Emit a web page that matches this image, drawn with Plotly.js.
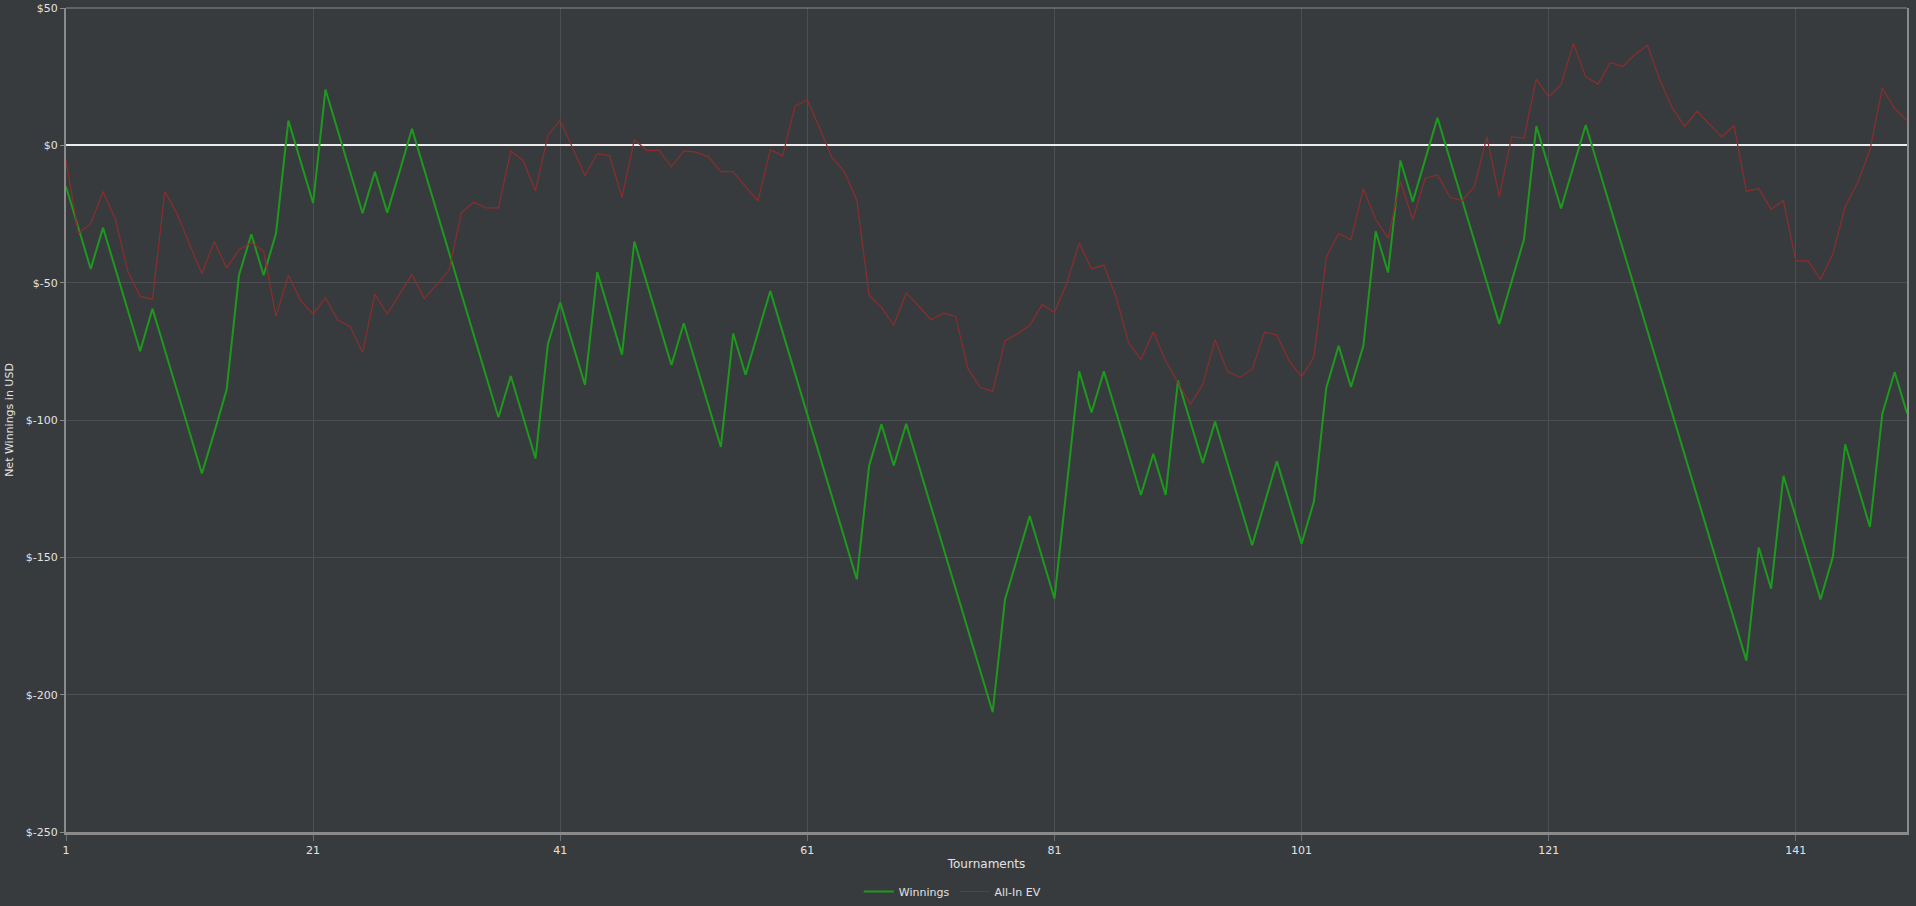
<!DOCTYPE html>
<html>
<head>
<meta charset="utf-8">
<script src="https://cdn.plot.ly/plotly-3.0.1.min.js"></script>
<style>
  html, body { margin: 0; padding: 0; background: #383b3e; }
  #chart { width: 1916px; height: 906px; }
</style>
</head>
<body>
<div id="chart"></div>
<script>
// cumulative results per tournament
const winnings = [
  -15, -30, -45, -30, -45, -60, -75, -59.5, -74.5, -89.5,
  -104.5, -119.5, -104.5, -89, -47.3, -32.4, -47.3, -32, 9, -6,
  -21, 20.3, 5.3, -9.7, -24.7, -9.6, -24.5, -9.5, 6, -9,
  -24, -39, -54, -69, -84, -99, -84, -99, -114, -72.4,
  -57.2, -72.2, -87.2, -46.2, -61.2, -76.2, -35, -50, -65, -80,
  -64.8, -79.8, -94.8, -109.8, -68.5, -83.5, -68.3, -53, -68, -83,
  -98, -113, -128, -143, -158, -116.6, -101.6, -116.6, -101.4, -116.4,
  -131.4, -146.4, -161.4, -176.4, -191.4, -206.4, -165.3, -150.3, -135, -150,
  -165, -124, -82.3, -97.3, -82.3, -97.3, -112.3, -127.3, -112.3, -127.3,
  -85.6, -100.6, -115.6, -100.6, -115.6, -130.6, -145.6, -130.4, -115, -130,
  -145, -129.7, -88.3, -73, -88, -73, -31.3, -46.3, -5.5, -20.5,
  -5.2, 10, -5, -20, -35, -50, -65, -49.5, -34.3, 7,
  -8, -23, -7.7, 7.4, -7.6, -22.6, -37.6, -52.6, -67.6, -82.6,
  -97.6, -112.6, -127.6, -142.6, -157.6, -172.6, -187.6, -146.4, -161.4, -120.3,
  -135.3, -150.3, -165.3, -149.8, -108.9, -123.9, -138.9, -97.8, -82.5, -97.5
];
const allInEV = [
  -5.5, -32, -28.5, -16.8, -27, -45.8, -55, -56, -16.8, -25,
  -36, -46.7, -35, -44.7, -38, -35.4, -38.6, -62.3, -47.3, -56.6,
  -61.4, -55.5, -63.6, -66, -75.4, -54.2, -61.4, -54.2, -47, -55.8,
  -50.6, -45.5, -24.6, -20.7, -22.8, -22.8, -2.1, -5.6, -16.5, 3.6,
  9.1, -0.7, -11, -3, -3.8, -18.9, 2, -1.8, -1.8, -7.8,
  -2, -2.5, -4.2, -9.6, -9.6, -15, -20.2, -1.6, -3.8, 14.3,
  16.5, 6.2, -4.6, -9.6, -20, -54.6, -59, -65.5, -53.8, -58.4,
  -63.5, -61.1, -62.3, -81.3, -88.2, -89.6, -71.1, -68.6, -65.6, -57.9,
  -60.8, -50.2, -35.6, -45, -43.6, -55.3, -71.8, -78, -68, -78.5,
  -86.6, -94.3, -87.1, -70.8, -82.3, -84.5, -81.6, -68, -69.1, -78.5,
  -84.3, -77.1, -40.7, -32.1, -34.4, -15.8, -27, -33.8, -13.2, -27,
  -12, -10.8, -18.9, -20.1, -14.9, 3.1, -18.7, 3.1, 2.6, 24.1,
  17.7, 22, 37.1, 24.9, 22.3, 30.2, 28.7, 33.2, 36.4, 23.7,
  13.7, 6.9, 12.4, 7.9, 3.1, 7.2, -16.7, -15.8, -23.2, -20.1,
  -42.1, -42.1, -48.8, -39.5, -22.2, -13.6, -1.7, 20.8, 13.4, 9.1
];
const tournaments = winnings.map((v, i) => i + 1);
const yTickVals = [50, 0, -50, -100, -150, -200, -250];
const yTickText = yTickVals.map(v => '$' + v);

const textColor = '#e2e2e2';
const font = { family: 'DejaVu Sans, Verdana, sans-serif', size: 11, color: textColor };

const traces = [
  {
    x: tournaments, y: winnings, name: 'Winnings',
    type: 'scatter', mode: 'lines',
    line: { color: '#1d9a1d', width: 2 },
    hoverinfo: 'none'
  },
  {
    x: tournaments, y: allInEV, name: 'All-In EV',
    type: 'scatter', mode: 'lines',
    line: { color: '#8c2d2d', width: 1.2 },
    hoverinfo: 'none'
  }
];

const layout = {
  width: 1916,
  height: 906,
  paper_bgcolor: '#383b3e',
  plot_bgcolor: '#383b3e',
  font: font,
  margin: { l: 66, r: 9, t: 8, b: 74, pad: 0 },
  showlegend: true,
  legend: {
    orientation: 'h',
    xref: 'container', yref: 'container',
    x: 0.497, xanchor: 'center',
    y: 0.016, yanchor: 'middle',
    bgcolor: 'rgba(0,0,0,0)',
    font: { family: font.family, size: 11, color: textColor },
    itemwidth: 30
  },
  xaxis: {
    range: [1, 150],
    tick0: 1, dtick: 20,
    showgrid: true, gridcolor: '#4c4f52', gridwidth: 1,
    zeroline: false,
    showline: true, linecolor: '#8a8a8a', linewidth: 3,
    ticks: 'outside', ticklen: 6, tickcolor: '#6a6d70',
    tickfont: font,
    title: { text: 'Tournaments', font: { family: font.family, size: 12, color: textColor }, standoff: 4 }
  },
  yaxis: {
    range: [-250, 50],
    tickvals: yTickVals, ticktext: yTickText,
    showgrid: true, gridcolor: '#4c4f52', gridwidth: 1,
    zeroline: true, zerolinecolor: '#ececec', zerolinewidth: 2,
    showline: true, linecolor: '#8a8a8a', linewidth: 2, mirror: true,
    ticks: 'outside', ticklen: 4, tickcolor: '#8a8a8a',
    tickfont: font,
    title: { text: 'Net Winnings in USD', font: { family: font.family, size: 11, color: textColor }, standoff: 10 }
  },
  shapes: [
    { type: 'line', xref: 'paper', yref: 'paper', x0: 0, x1: 1, y0: 1, y1: 1,
      line: { color: '#8a8a8a', width: 1 } }
  ]
};

Plotly.newPlot('chart', traces, layout, { displayModeBar: false, staticPlot: true });
</script>
</body>
</html>
